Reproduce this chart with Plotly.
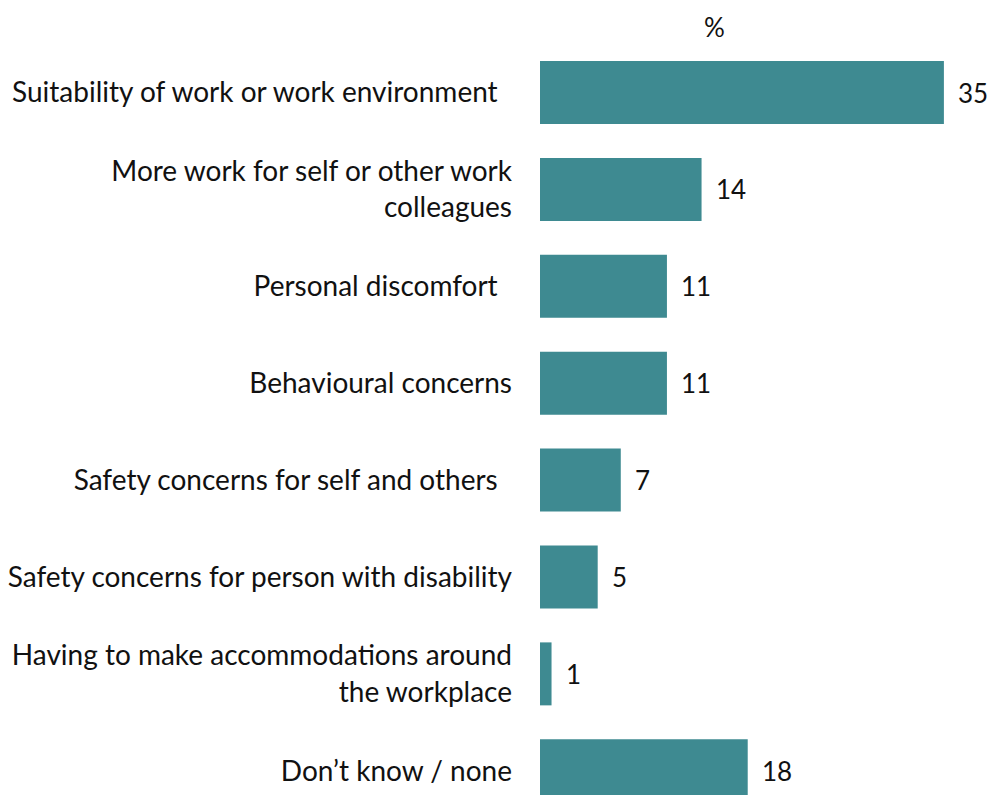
import plotly.graph_objects as go

# Reasons given, top to bottom
categories = [
    "Suitability of work or work environment\u00a0\u00a0",
    "More work for self or other work<br>colleagues",
    "Personal discomfort\u00a0\u00a0",
    "Behavioural concerns",
    "Safety concerns for self and others\u00a0\u00a0",
    "Safety concerns for person with disability",
    "Having to make accommodations around<br>the workplace",
    "Don\u2019t know / none",
]
values = [35, 14, 11, 11, 7, 5, 1, 18]

BAR_COLOR = "#3e8a91"
FONT = "Lato"
PX_PER_UNIT = 11.54

fig = go.Figure(
    go.Bar(
        x=values,
        y=categories,
        orientation="h",
        marker=dict(color=BAR_COLOR, line=dict(width=0)),
        width=0.65,
        hoverinfo="skip",
    )
)

# Value labels just past the end of each bar
for cat, v in zip(categories, values):
    fig.add_annotation(
        x=v, y=cat, text=str(v), showarrow=False,
        xanchor="left", yanchor="middle", xshift=12,
        font=dict(family=FONT, size=26, color="#111111"),
    )

# Unit marker above the bars
fig.add_annotation(
    x=(714 - 540) / PX_PER_UNIT, xref="x", y=1.0, yref="paper",
    yanchor="bottom", yshift=1, text="%", showarrow=False,
    font=dict(family=FONT, size=26, color="#111111"),
)

fig.update_layout(
    width=990,
    height=795,
    margin=dict(l=540, r=0, t=46, b=0),
    paper_bgcolor="white",
    plot_bgcolor="white",
    showlegend=False,
    xaxis=dict(range=[0, 450 / PX_PER_UNIT], visible=False),
    yaxis=dict(
        type="category",
        categoryorder="array",
        categoryarray=categories,
        range=[7.25, -0.48],
        showgrid=False,
        zeroline=False,
        showline=False,
        ticks="",
        ticklabelstandoff=27,
        tickfont=dict(family=FONT, size=28, color="#111111"),
    ),
)

fig.write_html("out.html")
